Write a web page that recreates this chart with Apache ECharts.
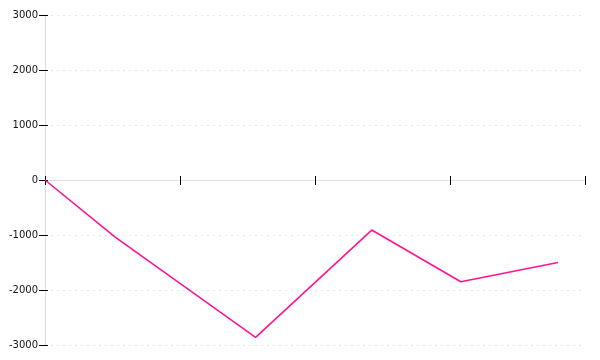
<!DOCTYPE html>
<html>
<head>
<meta charset="utf-8">
<script src="https://cdn.jsdelivr.net/npm/echarts@6/dist/echarts.min.js"></script>
<style>html,body{margin:0;padding:0;background:#fff}#c{width:600px;height:360px}</style>
</head>
<body>
<div id="c"></div>
<script>
const xValues = [0, 13, 39, 60.5, 77, 95];
const yValues = [0, -1040, -2860, -910, -1850, -1500];
const yTicks = [-3000, -2000, -1000, 0, 1000, 2000, 3000];

const chart = echarts.init(document.getElementById('c'), null, {renderer: 'canvas'});
const pts = xValues.map((x, i) => [x, yValues[i]]);
const yBase = {
  type: 'value', min: yTicks[0], max: yTicks[yTicks.length - 1], interval: 1000
};
chart.setOption({
  animation: false,
  grid: {left: 45, right: 15, top: 15, bottom: 15, containLabel: false},
  xAxis: [{
    type: 'value', min: 0, max: 100, interval: 25,
    axisLine: {show: true, onZero: true, lineStyle: {color: '#dddddd', width: 1}},
    axisTick: {show: true, inside: false, length: 5, lineStyle: {color: '#000'}},
    axisLabel: {show: false},
    splitLine: {show: false}
  }, {
    type: 'value', min: 0, max: 100, interval: 25, position: 'bottom',
    axisLine: {show: false, onZero: true},
    axisTick: {show: true, inside: true, length: 4, lineStyle: {color: '#000'}},
    axisLabel: {show: false},
    splitLine: {show: false}
  }],
  yAxis: [Object.assign({}, yBase, {
    axisLine: {show: true, onZero: false, lineStyle: {color: '#dddddd', width: 1}},
    axisTick: {show: true, length: 6, lineStyle: {color: '#000'}},
    axisLabel: {show: true, margin: 7, fontSize: 10, fontFamily: 'DejaVu Sans', color: '#111',
      formatter: v => v === 0 ? '0' : String(v)},
    splitLine: {show: true, lineStyle: {color: '#e6e6e6', type: [2, 4], width: 1}}
  }), Object.assign({}, yBase, {
    position: 'right', offset: -540,
    axisLine: {show: false, onZero: false},
    axisTick: {show: true, inside: false, length: 3, lineStyle: {color: '#000'}},
    axisLabel: {show: false},
    splitLine: {show: false}
  })],
  series: [{
    type: 'line', data: pts, xAxisIndex: 0, yAxisIndex: 0,
    symbol: 'none', lineStyle: {color: '#ff1493', width: 1.6}, itemStyle: {color: '#ff1493'}
  }]
});
</script>
</body>
</html>
